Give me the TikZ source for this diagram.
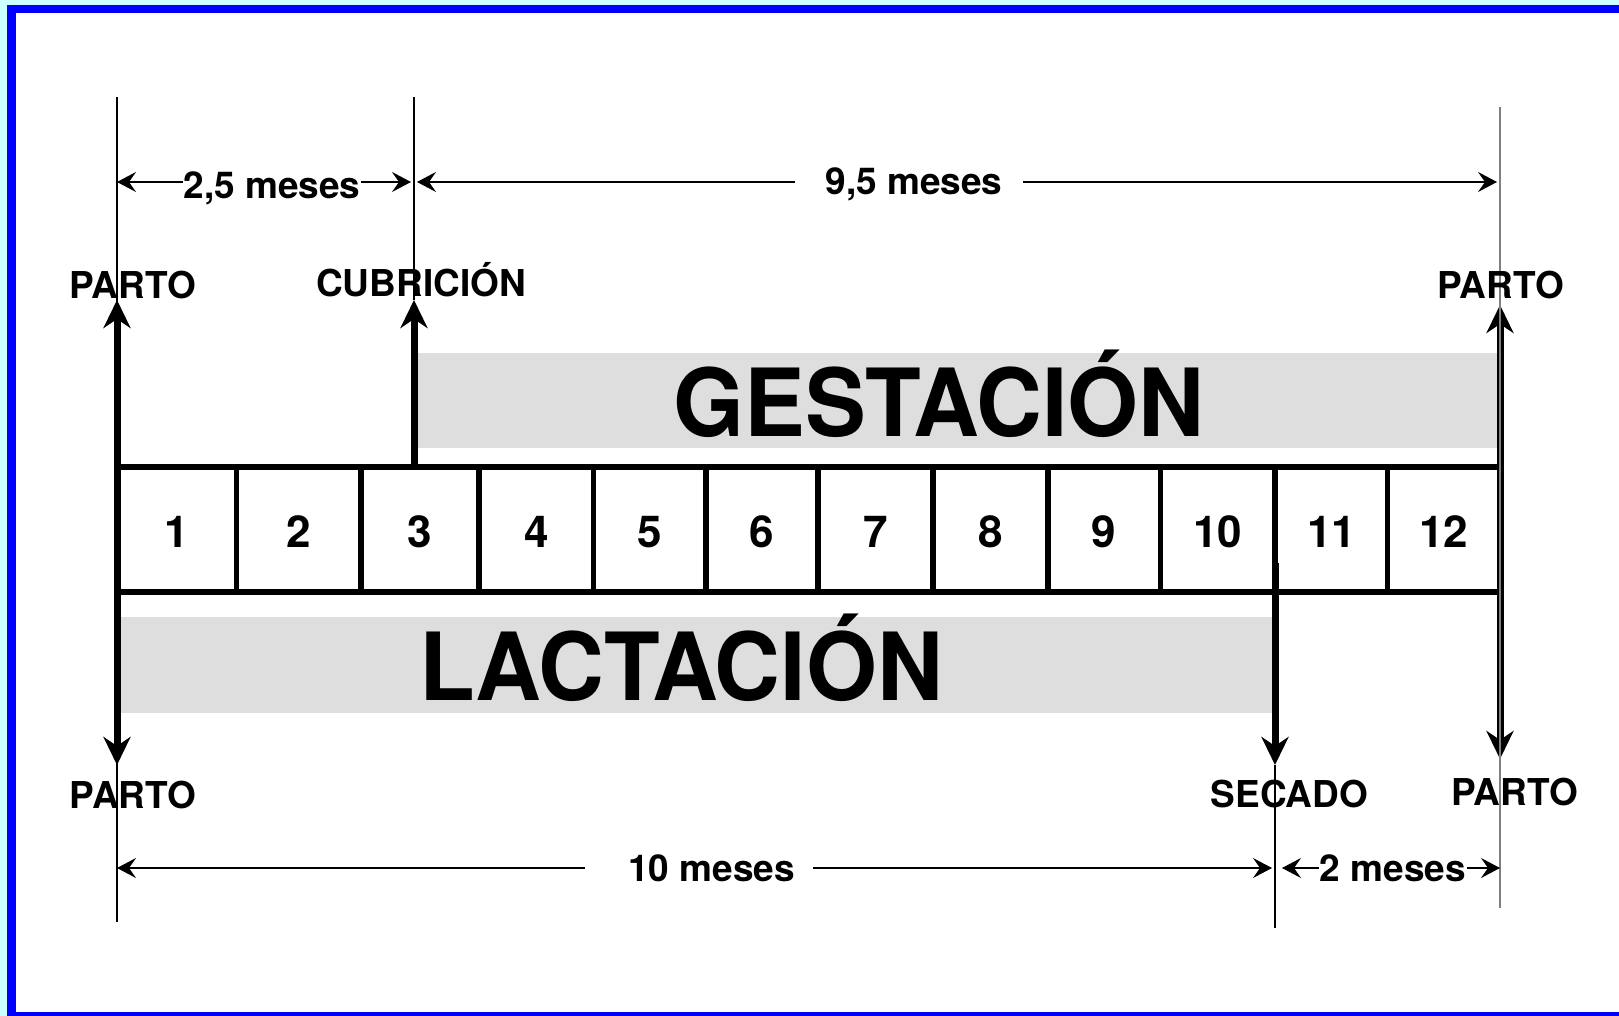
\documentclass[tikz,border=0pt]{standalone}
\usepackage{fontspec}
\setmainfont{TeX Gyre Heros}
\usetikzlibrary{arrows.meta}
\definecolor{bgcyan}{RGB}{204,255,255}
\definecolor{frameblue}{RGB}{0,0,255}
\definecolor{bandgray}{RGB}{222,222,222}
\definecolor{thingray}{RGB}{128,128,128}
\begin{document}
\begin{tikzpicture}[x=1pt,y=-1pt,
  bigtip/.tip={Stealth[length=28pt,width=27pt,inset=9pt]},
  dimtip/.tip={Stealth[length=19pt,width=20pt,inset=7pt]},
  lab/.style={font=\bfseries\fontsize{37}{40}\selectfont, inner sep=0pt, anchor=base},
  dimlab/.style={lab, fill=white, inner xsep=1pt, inner ysep=0pt},
  num/.style={font=\bfseries\fontsize{44}{48}\selectfont, inner sep=0pt, anchor=base},
  big/.style={font=\bfseries\fontsize{94}{100}\selectfont, inner sep=0pt, anchor=base},
  band/.style={fill=bandgray, draw=none},
  gridline/.style={line width=6.5pt},
  divline/.style={line width=5.5pt},
  bigline/.style={line width=7pt},
  thinline/.style={line width=1.2pt, black},
  thingrayline/.style={line width=1.4pt, thingray},
  dimline/.style={line width=1.3pt}
]
\useasboundingbox (0,0) rectangle (1619,1016);
% background and frame
\fill[bgcyan] (0,0) rectangle (1619,1016);
\fill[frameblue] (7,5) rectangle (1619,1016);
\fill[white] (16,13) rectangle (1619,1012);

% grey bands
\fill[band] (418,353) rectangle (1497,448);
\fill[band] (121,617) rectangle (1272,713);
\node[big] (gest) at (939,436) {\scalebox{0.97}[1]{GESTACIÓN}};
\node[big] (lact) at (681,700.7) {\scalebox{0.97}[1]{LACTACIÓN}};

% cell boundaries
\foreach \i/\x in {0/117,1/236.4,2/360.8,3/479.2,4/593.6,5/706.1,6/818,7/933.1,8/1047.9,9/1160.4,10/1275.2,11/1387.7,12/1500}{
  \coordinate (bt\i) at (\x,467);
  \coordinate (bb\i) at (\x,592);
}
\draw[gridline] (bt0) -- (bt12);
\draw[gridline] (bb0) -- (bb12);
\foreach \i in {1,...,11}{
  \draw[divline] (bt\i) -- (bb\i);
}
% numbers
\foreach \i [evaluate=\i as \j using int(\i-1)] in {1,...,12}{
  \path (bt\j) -- (bt\i) coordinate[pos=0.5] (m\i);
  \node[num] (c\i) at (m\i |- 0,547.3) {\i};
}

% thick arrows
\coordinate (pl-top) at (117,300);
\coordinate (pl-bot) at (117,765);
\coordinate (cub-top) at (414,300);
\coordinate (cub-base) at (414,467);
\coordinate (pr-top) at (1500,305);
\coordinate (pr-bot) at (1500,759);
\coordinate (sec-top) at (1275,563);
\coordinate (sec-bot) at (1275,765);
\draw[bigline, bigtip-bigtip] (pl-bot) -- (pl-top);
\draw[bigline, -bigtip] (cub-base) -- (cub-top);
\draw[bigline, bigtip-bigtip] (pr-bot) -- (pr-top);
\draw[bigline, -bigtip] (sec-top) -- (sec-bot);

% thin extension lines
\coordinate (el1a) at (117,97);   \coordinate (el1b) at (117,922);
\coordinate (el2a) at (414,97);
\coordinate (el3a) at (1500,107); \coordinate (el3b) at (1500,908);
\coordinate (el4b) at (1275,928);
\draw[thinline] (el1a) -- (el1b);
\draw[thinline] (el2a) -- (cub-top);
\draw[thingrayline] (el3a) -- (el3b);
\draw[thinline] (sec-bot) -- (el4b);

% dimension arrows
\coordinate (a1l) at (117,182);  \coordinate (a1r) at (411,182);
\coordinate (a2l) at (417,182);  \coordinate (a2r) at (1497,182);
\coordinate (g2l) at (795,182);  \coordinate (g2r) at (1023,182);
\coordinate (a3l) at (117,868);  \coordinate (a3r) at (1272,868);
\coordinate (g3l) at (585,868);  \coordinate (g3r) at (813,868);
\coordinate (a4l) at (1282,868); \coordinate (a4r) at (1500,868);
\draw[dimline, dimtip-dimtip] (a1l) -- (a1r);
\draw[dimline, dimtip-] (a2l) -- (g2l);
\draw[dimline, -dimtip] (g2r) -- (a2r);
\draw[dimline, dimtip-] (a3l) -- (g3l);
\draw[dimline, -dimtip] (g3r) -- (a3r);
\draw[dimline, dimtip-dimtip] (a4l) -- (a4r);
\node[dimlab] (d1) at (272,198.3) {2,5 meses};
\node[lab] (d2) at (914,195) {9,5 meses};
\node[lab] (d3) at (711.7,881.7) {10 meses};
\node[dimlab] (d4) at (1393,881) {2 meses};

% event labels
\node[lab] (partoTL) at (132.6,298.3) {PARTO};
\node[lab] (cub) at (421,296.7) {CUBRICIÓN};
\node[lab] (partoTR) at (1500.8,298.3) {PARTO};
\node[lab] (partoBL) at (133,808.3) {PARTO};
\node[lab] (secado) at (1289.5,807.7) {SECADO};
\node[lab] (partoBR) at (1514.6,805) {PARTO};
\end{tikzpicture}
\end{document}
